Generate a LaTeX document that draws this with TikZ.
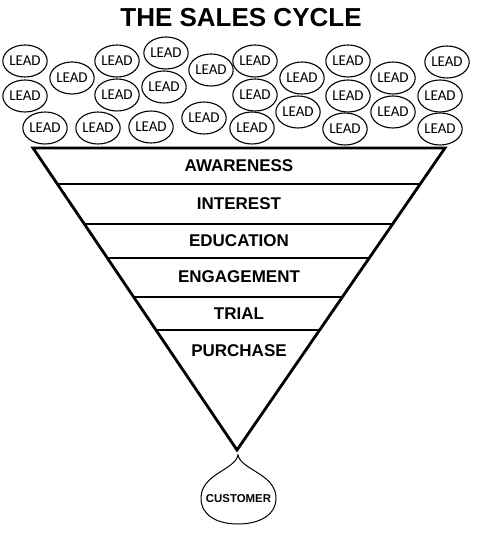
\documentclass[tikz,border=0pt]{standalone}
\usepackage{fontspec}
\setmainfont{Liberation Sans}
\newfontfamily\leadfont{Carlito}
\usetikzlibrary{shapes.geometric,calc}
\tikzset{
  lead/.style={draw, ellipse, line width=1.1pt, minimum width=44pt, minimum height=32pt, inner sep=0pt, font=\leadfont\fontsize{15}{16}\selectfont},
  stage/.style={font=\bfseries\fontsize{17}{18}\selectfont, inner sep=0pt},
  funnel/.style={line width=2.8pt, line join=miter},
  divider/.style={line width=2.2pt},
}
\begin{document}
\begin{tikzpicture}[x=1pt,y=-1pt]
\useasboundingbox (0,0) rectangle (478,534);
\node[font=\bfseries\fontsize{26}{28}\selectfont, inner sep=0pt] (title) at (241,18) {THE SALES CYCLE};
% leads
\foreach \n/\x/\y in {1/25/61, 2/72/78, 3/117/61, 4/166/53, 5/211/70, 6/255/61, 7/302/78, 8/348/61, 9/393/78, 10/447/62,
  11/25/96, 12/117/95, 13/164/87, 14/255/95, 15/348/96, 16/440/96, 17/298/112, 18/393/112,
  19/45/128, 20/98/128, 21/151/127, 22/204/118, 23/252/128, 24/345/129, 25/440/129}
  \node[lead] (lead\n) at (\x,\y) {LEAD};
% funnel
\coordinate (tl) at (33,148);
\coordinate (tr) at (445,148);
\coordinate (apex) at (237,450);
\foreach \i/\yy in {1/184, 2/224, 3/258, 4/297, 5/330}{
  \pgfmathsetmacro{\f}{(\yy-148)/302}
  \coordinate (l\i) at ($(tl)!\f!(apex)$);
  \coordinate (r\i) at ($(tr)!\f!(apex)$);
}
\foreach \i in {1,...,5} \draw[divider] (l\i) -- (r\i);
\draw[funnel] (tl) -- (tr) -- (apex) -- cycle;
\node[stage] (awareness) at (239,166) {AWARENESS};
\node[stage] (interest) at (239,204) {INTEREST};
\node[stage] (education) at (239,241) {EDUCATION};
\node[stage] (engagement) at (239,277) {ENGAGEMENT};
\node[stage] (trial) at (239,314) {TRIAL};
\node[stage] (purchase) at (239,351) {PURCHASE};
% customer drop
\coordinate (tip) at (238,455);
\draw[line width=1pt] (tip) .. controls (241,470) and (276,474) .. (276,498)
  .. controls (276,516) and (258,524) .. (238,524)
  .. controls (218,524) and (201,516) .. (201,498)
  .. controls (201,474) and (235,470) .. (tip) -- cycle;
\node[font=\bfseries\fontsize{11.4}{12}\selectfont, inner sep=0pt] (customer) at (238.5,499) {CUSTOMER};
\end{tikzpicture}
\end{document}
